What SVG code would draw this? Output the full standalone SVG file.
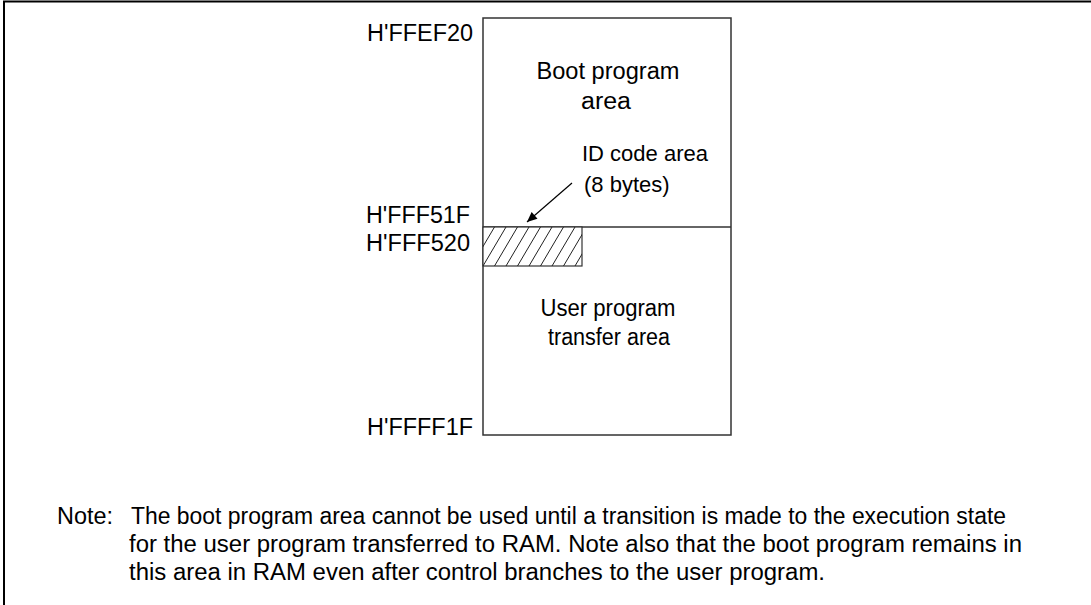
<svg xmlns="http://www.w3.org/2000/svg" width="1091" height="605" viewBox="0 0 1091 605">
<style>
text{font-family:"Liberation Sans",Arial,Helvetica,sans-serif;font-size:23px;fill:#000}
.frame{stroke:#000;stroke-width:2;fill:none}
.box{stroke:#333;stroke-width:1.5;fill:#fff}
.hatch{stroke:#222;stroke-width:1;fill:none}
.conn{stroke:#000;stroke-width:1.2;fill:none}
</style>
<defs>
<marker id="ah" viewBox="0 0 10 10" refX="10" refY="5" markerWidth="17" markerHeight="10" markerUnits="userSpaceOnUse" orient="auto">
<path d="M0,0.5 L10,5 L0,9.5 Z" fill="#000"/>
</marker>
<clipPath id="hc"><rect x="483" y="227" width="99" height="39"/></clipPath>
</defs>
<rect width="1091" height="605" fill="#fff"/>
<path class="frame" d="M4,605 V1.5 H1091"/>
<g id="memory">
<rect class="box" x="483" y="18" width="248" height="417"/>
<line class="box" x1="483" y1="227" x2="731" y2="227"/>
</g>
<g id="id-code-area">
<rect x="483" y="227" width="99" height="39" fill="#fff" stroke="#333" stroke-width="1.2"/>
<path class="hatch" clip-path="url(#hc)" d="M460,266 L483,227 M471.5,266 L494.5,227 M483,266 L506,227 M494.5,266 L517.5,227 M506,266 L529,227 M517.5,266 L540.5,227 M529,266 L552,227 M540.5,266 L563.5,227 M552,266 L575,227 M563.5,266 L586.5,227 M575,266 L598,227"/>
</g>
<g id="boot-area">
<text x="608" y="79" text-anchor="middle" textLength="143" lengthAdjust="spacingAndGlyphs">Boot program</text>
<text x="606" y="109" text-anchor="middle" textLength="50" lengthAdjust="spacingAndGlyphs">area</text>
</g>
<g id="user-area">
<text x="608" y="316" text-anchor="middle" textLength="135" lengthAdjust="spacingAndGlyphs">User program</text>
<text x="609" y="345" text-anchor="middle" textLength="122" lengthAdjust="spacingAndGlyphs">transfer area</text>
</g>
<g id="id-label">
<text x="582" y="161" style="font-size:22px">ID code area</text>
<text x="584" y="192" style="font-size:22px">(8 bytes)</text>
</g>
<g id="addresses">
<text x="473" y="41" text-anchor="end" textLength="106" lengthAdjust="spacingAndGlyphs">H'FFEF20</text>
<text x="470" y="223" text-anchor="end" textLength="104" lengthAdjust="spacingAndGlyphs">H'FFF51F</text>
<text x="470" y="251" text-anchor="end" textLength="104" lengthAdjust="spacingAndGlyphs">H'FFF520</text>
<text x="473" y="435" text-anchor="end" textLength="106" lengthAdjust="spacingAndGlyphs">H'FFFF1F</text>
</g>
<g id="connectors">
<line class="conn" x1="572" y1="183" x2="527" y2="222" marker-end="url(#ah)"/>
</g>
<g id="note">
<text x="57" y="524" textLength="56" lengthAdjust="spacingAndGlyphs">Note:</text>
<text x="131" y="524" textLength="875" lengthAdjust="spacingAndGlyphs">The boot program area cannot be used until a transition is made to the execution state</text>
<text x="129" y="552" textLength="893" lengthAdjust="spacingAndGlyphs">for the user program transferred to RAM. Note also that the boot program remains in</text>
<text x="129" y="580" textLength="696" lengthAdjust="spacingAndGlyphs">this area in RAM even after control branches to the user program.</text>
</g>
</svg>
